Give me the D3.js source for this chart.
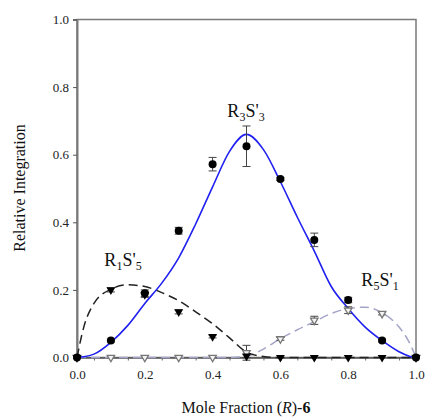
<!DOCTYPE html>
<html><head><meta charset="utf-8">
<script src="https://cdn.jsdelivr.net/npm/d3@7"></script>
<style>body{margin:0;background:#fff}svg{display:block}text{font-family:"Liberation Serif","Times New Roman",serif}</style>
</head><body><svg id="c" width="425" height="419"></svg>
<script>
// Data points
const xs = [0,0.1,0.2,0.3,0.4,0.5,0.6,0.7,0.8,0.9,1.0];
const r3s3 = [0,0.05,0.19,0.375,0.572,0.625,0.528,0.348,0.17,0.05,0];
const r3s3Err = [0,0.004,0.01,0.01,0.02,0.06,0.004,0.02,0.008,0.004,0];
const r1s5 = [0,0.20,0.186,0.135,0.062,0.004,0,0,0,0,0];
const r1s5Err = [0,0.006,0.008,0.006,0.004,0.004,0,0,0,0,0];
const r5s1 = [0,0,0,0,0,0.014,0.055,0.11,0.14,0.13,0];
const r5s1Err = [0,0,0,0,0,0.022,0.004,0.012,0.01,0.004,0];
// Fitted curves
const fitX = [0,0.02,0.05,0.1,0.15,0.2,0.25,0.3,0.35,0.4,0.45,0.5,0.55,0.6,0.65,0.7,0.75,0.8,0.85,0.9,0.95,0.98,1.0];
const fitR3S3 = [0,0.002,0.01,0.045,0.095,0.16,0.22,0.295,0.395,0.505,0.61,0.66,0.615,0.52,0.415,0.315,0.21,0.145,0.09,0.05,0.017,0.004,0];
const fitR1S5 = [0,0.09,0.16,0.202,0.215,0.21,0.192,0.168,0.135,0.1,0.058,0.016,0.003,0,0,0,0,0,0,0,0,0,0];
const fitR5S1 = [0,0,0,0,0,0,0,0,0,0,0,0.004,0.025,0.056,0.082,0.106,0.13,0.145,0.149,0.132,0.09,0.045,0];
const xTicks = [0,0.2,0.4,0.6,0.8,1.0];
const yTicks = [0,0.2,0.4,0.6,0.8,1.0];

const FONT = '"Liberation Serif","Times New Roman",serif';
const svg = d3.select("#c");
const x = d3.scaleLinear().domain([0,1]).range([77,416]);
const y = d3.scaleLinear().domain([0,1]).range([357.5,19.5]);

// frame
svg.append("rect").attr("x",77).attr("y",19.5).attr("width",339).attr("height",338)
  .attr("fill","none").attr("stroke","#7a7a7a").attr("stroke-width",1.5);

// y axis
const ya = svg.append("g").attr("transform","translate(77,0)")
  .call(d3.axisLeft(y).tickValues(yTicks).tickFormat(d3.format(".1f")).tickSize(4).tickPadding(4));
ya.attr("font-family",null);
ya.select(".domain").attr("stroke","#7a7a7a").attr("stroke-width",2);
ya.selectAll(".tick line").attr("stroke","#555");
ya.selectAll("text").style("font-size","13px").style("font-family",FONT).attr("fill","#222");

// x axis minor ticks
const xm = svg.append("g").attr("transform","translate(0,357.5)")
  .call(d3.axisBottom(x).tickValues(d3.range(0,1.001,0.05)).tickFormat("").tickSize(3));
xm.select(".domain").remove();
xm.selectAll(".tick line").attr("stroke","#666");
const xa = svg.append("g").attr("transform","translate(0,357.5)")
  .call(d3.axisBottom(x).tickValues(xTicks).tickFormat(d3.format(".1f")).tickSize(3).tickPadding(9));
xa.attr("font-family",null);
xa.select(".domain").attr("stroke","#555").attr("stroke-width",1.5);
xa.selectAll(".tick line").attr("stroke","#555");
xa.selectAll("text").style("font-size","13px").style("font-family",FONT).attr("fill","#222");

// curves
const line = d3.line().x(d=>x(d[0])).y(d=>y(d[1])).curve(d3.curveMonotoneX);
svg.append("path").datum(fitX.map((v,i)=>[v,fitR5S1[i]])).attr("d",line)
  .attr("fill","none").attr("stroke","#a4a4c8").attr("stroke-width",1.5).attr("stroke-dasharray","9,5");
svg.append("path").datum(fitX.map((v,i)=>[v,fitR1S5[i]])).attr("d",line)
  .attr("fill","none").attr("stroke","#222").attr("stroke-width",1.5).attr("stroke-dasharray","9,5");
svg.append("path").datum(fitX.map((v,i)=>[v,fitR3S3[i]])).attr("d",line)
  .attr("fill","none").attr("stroke","#2020f0").attr("stroke-width",1.6);

// error bars
function errBars(vals, errs){
  const g = svg.append("g");
  xs.forEach((xv,i)=>{
    const e = errs[i]; if(e<=0.003) return;
    const cx = x(xv), y1=y(vals[i]+e), y2=y(vals[i]-e);
    g.append("line").attr("x1",cx).attr("x2",cx).attr("y1",y1).attr("y2",y2).attr("stroke","#444").attr("stroke-width",1);
    [y1,y2].forEach(yy=>g.append("line").attr("x1",cx-4).attr("x2",cx+4).attr("y1",yy).attr("y2",yy).attr("stroke","#444").attr("stroke-width",1));
  });
}
errBars(r5s1, r5s1Err);
errBars(r1s5, r1s5Err);
errBars(r3s3, r3s3Err);

const triOpen = d3.symbol().type(d3.symbolTriangle).size(24);
const tri = d3.symbol().type(d3.symbolTriangle).size(34);
// open triangles (R5S'1)
svg.append("g").selectAll("path").data(xs).join("path")
  .attr("d",triOpen).attr("transform",(d,i)=>`translate(${x(d)},${y(r5s1[i])}) rotate(180)`)
  .attr("fill","#f4f4f4").attr("stroke","#777").attr("stroke-width",1.3);
// filled triangles (R1S'5)
svg.append("g").selectAll("path").data(xs).join("path")
  .attr("d",tri).attr("transform",(d,i)=>`translate(${x(d)},${y(r1s5[i])}) rotate(180)`)
  .attr("fill","#000");
// circles (R3S'3)
svg.append("g").selectAll("circle").data(xs).join("circle")
  .attr("cx",d=>x(d)).attr("cy",(d,i)=>y(r3s3[i])).attr("r",4).attr("fill","#000");

// labels
function label(px, py, a, b){
  const t = svg.append("text").attr("x",px).attr("y",py).style("font-size","18px").attr("fill","#111").attr("text-anchor","middle");
  t.append("tspan").text("R");
  t.append("tspan").style("font-size","12px").attr("dy",4).text(a);
  t.append("tspan").attr("dy",-4).text("S'");
  t.append("tspan").style("font-size","12px").attr("dy",4).text(b);
}
label(246,117,"3","3");
label(123,266,"1","5");
label(380,286,"5","1");

// axis titles
svg.append("text").attr("transform","translate(25,188) rotate(-90)").attr("text-anchor","middle")
  .style("font-size","16px").attr("fill","#111").text("Relative Integration");
const xt = svg.append("text").attr("x",246).attr("y",413).attr("text-anchor","middle").style("font-size","16px").attr("fill","#111");
xt.append("tspan").text("Mole Fraction (");
xt.append("tspan").attr("font-style","italic").text("R");
xt.append("tspan").text(")-");
xt.append("tspan").attr("font-weight","bold").text("6");
</script></body></html>
